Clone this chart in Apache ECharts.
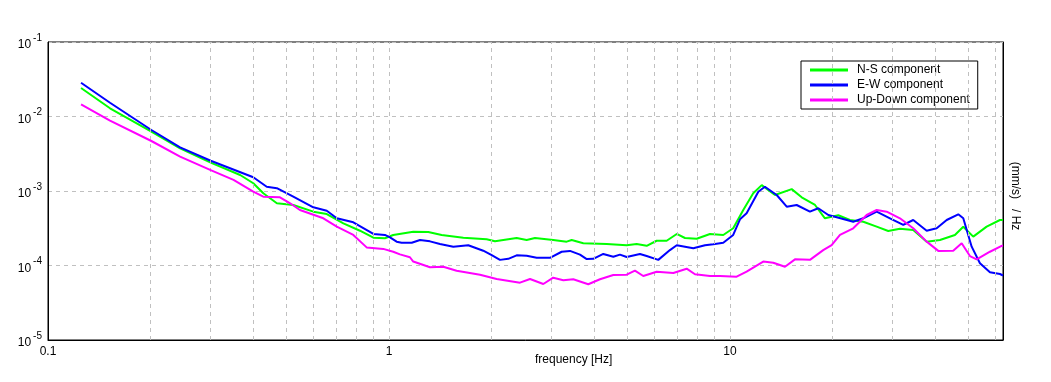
<!DOCTYPE html>
<html lang="en">
<head>
    <meta charset="UTF-8">
    <title>Spectrum components</title>
    <script src="https://cdn.jsdelivr.net/npm/echarts@6/dist/echarts.min.js"></script>
</head>
<body style="margin:0; background:#fff;">
    <div id="main" style="width:1051px;height:382px;"></div>
    <script>
        // series names
        var seriesNames = ['N-S component', 'E-W component', 'Up-Down component'];

        // [frequency Hz, amplitude (mm/s)/Hz]
        var nsData = [
            [0.125,0.0241],[0.152,0.0129],[0.201,0.00625],[0.244,0.00374],[0.300,0.00240],[0.366,0.00164],
            [0.400,0.00127],[0.428,0.000931],[0.469,0.000684],[0.524,0.000649],[0.600,0.000528],[0.657,0.000491],
            [0.735,0.000368],[0.822,0.000293],[0.900,0.000236],[0.973,0.000232],[1.029,0.000257],[1.178,0.000284],
            [1.304,0.000282],[1.427,0.000257],[1.652,0.000236],[1.934,0.000225],[2.046,0.000211],[2.368,0.000234],
            [2.534,0.000220],[2.680,0.000234],[3.032,0.000220],[3.320,0.000209],[3.434,0.000220],[3.714,0.000199],
            [4.349,0.000194],[4.978,0.000187],[5.325,0.000194],[5.698,0.000184],[6.096,0.000215],[6.522,0.000215],
            [6.981,0.000265],[7.379,0.000234],[7.988,0.000229],[8.737,0.000265],[9.558,0.000257],[10.22,0.000316],
            [10.94,0.000556],[11.70,0.000931],[12.39,0.00120],[13.55,0.000884],[15.17,0.00106],[16.23,0.000823],
            [17.76,0.000649],[18.99,0.000430],[20.78,0.000472],[22.48,0.000408],[24.60,0.000387],[26.93,0.000332],
            [29.12,0.000290],[31.51,0.000312],[34.47,0.000300],[37.75,0.000209],[41.28,0.000220],[45.68,0.000257],
            [48.33,0.000332],[51.70,0.000244],[56.59,0.000332],[61.92,0.000408],[63.2,0.000408]
        ];
        var ewData = [
            [0.125,0.0284],[0.152,0.0153],[0.201,0.00659],[0.244,0.00386],[0.300,0.00255],[0.400,0.00153],
            [0.438,0.00114],[0.469,0.00109],[0.524,0.000838],[0.600,0.000604],[0.657,0.000544],[0.703,0.000430],
            [0.786,0.000380],[0.900,0.000265],[0.973,0.000257],[1.007,0.000239],[1.053,0.000209],[1.089,0.000202],
            [1.166,0.000202],[1.233,0.000220],[1.319,0.000211],[1.411,0.000194],[1.544,0.000179],[1.708,0.000187],
            [1.890,0.000158],[2.001,0.000138],[2.116,0.000119],[2.238,0.000123],[2.368,0.000137],[2.534,0.000135],
            [2.711,0.000127],[2.966,0.000127],[3.209,0.000153],[3.395,0.000157],[3.632,0.000140],[3.801,0.000122],
            [3.973,0.000123],[4.251,0.000143],[4.548,0.000131],[4.757,0.000140],[4.978,0.000130],[5.445,0.000143],
            [5.698,0.000134],[6.163,0.000119],[6.668,0.000161],[6.981,0.000187],[7.806,0.000170],[8.448,0.000187],
            [8.934,0.000193],[9.558,0.000202],[10.22,0.000257],[10.70,0.000417],[11.19,0.000502],[12.11,0.000979],
            [12.66,0.00114],[13.71,0.000884],[14.67,0.000616],[15.69,0.000649],[17.16,0.000528],[18.15,0.000586],
            [19.43,0.000476],[20.56,0.000444],[22.99,0.000387],[24.60,0.000430],[26.93,0.000528],[29.46,0.000430],
            [32.23,0.000350],[34.47,0.000408],[37.75,0.000293],[40.38,0.000316],[43.21,0.000408],[46.72,0.000487],
            [48.33,0.000430],[51.15,0.000179],[54.09,0.000107],[57.87,0.0000810],[61.92,0.0000769],[63.2,0.0000734]
        ];
        var udData = [
            [0.125,0.0146],[0.152,0.00878],[0.201,0.00469],[0.244,0.00289],[0.300,0.00191],[0.350,0.00141],
            [0.400,0.000979],[0.428,0.000838],[0.479,0.000823],[0.513,0.000684],[0.548,0.000556],[0.642,0.000430],
            [0.703,0.000332],[0.786,0.000257],[0.860,0.000175],[0.962,0.000167],[1.029,0.000153],[1.077,0.000141],
            [1.152,0.000129],[1.178,0.000113],[1.319,0.0000946],[1.443,0.0000964],[1.579,0.0000852],[1.849,0.0000752],
            [2.069,0.0000659],[2.422,0.0000588],[2.592,0.0000659],[2.835,0.0000565],[3.032,0.0000686],[3.245,0.0000633],
            [3.471,0.0000653],[3.841,0.0000560],[4.157,0.0000653],[4.548,0.0000746],[4.978,0.0000752],[5.264,0.0000852],
            [5.568,0.0000723],[6.096,0.0000825],[6.822,0.0000793],[7.465,0.0000906],[7.896,0.0000762],[8.737,0.0000723],
            [9.348,0.0000723],[10.46,0.0000707],[11.19,0.0000825],[12.52,0.000113],[13.40,0.000109],[14.50,0.0000964],
            [15.51,0.000121],[17.16,0.000119],[18.77,0.000161],[19.87,0.000188],[21.02,0.000257],[22.99,0.000316],
            [25.17,0.000476],[26.93,0.000556],[28.81,0.000528],[31.51,0.000430],[34.47,0.000316],[37.75,0.000209],
            [40.82,0.000157],[45.16,0.000158],[47.81,0.000199],[50.55,0.000134],[52.90,0.000121],[57.87,0.000153],
            [62.62,0.000183],[63.2,0.000186]
        ];

        // vertical dashed grid lines (1-2-3..9 per decade)
        var gridFreqs = [0.2,0.3,0.4,0.5,0.6,0.7,0.8,0.9,1,2,3,4,5,6,7,8,9,10,20,30,40,50,60];

        var font = '"Liberation Sans", Arial, sans-serif';
        var gridColor = '#c0c0c0';

        var chart = echarts.init(document.getElementById('main'));

        var option = {
            animation: false,
            textStyle: { fontFamily: font },
            grid: {
                left: 48, right: 48, top: 42, bottom: 42,
                show: true, borderColor: '#000', borderWidth: 1
            },
            legend: {
                data: seriesNames,
                orient: 'vertical',
                left: 801, top: 61,
                padding: [2, 8, 2, 9],
                icon: 'rect',
                itemGap: 1,
                itemWidth: 38,
                itemHeight: 3,
                backgroundColor: '#fff',
                borderColor: '#000',
                borderWidth: 1,
                borderRadius: 0,
                textStyle: { color: '#000', fontSize: 12, fontFamily: font, lineHeight: 14, padding: [0, 0, 0, 4] }
            },
            xAxis: {
                type: 'log',
                logBase: 10,
                min: 0.1,
                max: 63.2,
                axisLine: { show: true, lineStyle: { color: '#000', width: 1 } },
                axisTick: { show: false },
                splitLine: { show: false },
                axisLabel: {
                    color: '#000', fontSize: 12, margin: 6,
                    showMaxLabel: false,
                    formatter: function (v) { return v < 1 ? v.toFixed(1) : String(Math.round(v)); }
                }
            },
            yAxis: [{
                type: 'log',
                logBase: 10,
                min: 0.00001,
                max: 0.1,
                axisLine: { show: true, lineStyle: { color: '#000', width: 1 } },
                axisTick: { show: false },
                splitLine: { show: true, lineStyle: { color: gridColor, type: [4, 4], width: 1 } },
                axisLabel: {
                    margin: 6,
                    formatter: function (v) {
                        return '{b|10}{s|' + Math.round(Math.log10(v)) + '}';
                    },
                    rich: {
                        b: { fontSize: 12, color: '#000', fontFamily: font, lineHeight: 18, verticalAlign: 'bottom' },
                        s: { fontSize: 10, color: '#000', fontFamily: font, lineHeight: 18, verticalAlign: 'top', padding: [0, 0, 0, 2] }
                    }
                }
            }, {
                type: 'log',
                logBase: 10,
                min: 0.00001,
                max: 0.1,
                position: 'right',
                name: '(mm/s)   / Hz',
                nameLocation: 'middle',
                nameRotate: -90,
                nameGap: 6,
                nameTextStyle: { color: '#000', fontSize: 12, fontFamily: font, padding: [0, 0, 0, 10] },
                axisLine: { show: true, lineStyle: { color: '#000', width: 1 } },
                axisTick: { show: false },
                axisLabel: { show: false },
                splitLine: { show: false }
            }],
            graphic: [{
                type: 'text',
                left: 535, top: 354,
                style: { text: 'frequency [Hz]', fill: '#000', font: '12px ' + font }
            }],
            series: [
                {
                    name: 'grid',
                    type: 'line',
                    data: [],
                    z: 1,
                    silent: true,
                    markLine: {
                        silent: true,
                        symbol: 'none',
                        label: { show: false },
                        lineStyle: { color: gridColor, type: [4, 4], width: 1 },
                        data: gridFreqs.map(function (f) { return { xAxis: f }; })
                    }
                },
                {
                    name: seriesNames[0], type: 'line', data: nsData, z: 3,
                    symbol: 'none', color: '#00ff00', lineStyle: { width: 2 }
                },
                {
                    name: seriesNames[1], type: 'line', data: ewData, z: 4,
                    symbol: 'none', color: '#0000ff', lineStyle: { width: 2 }
                },
                {
                    name: seriesNames[2], type: 'line', data: udData, z: 5,
                    symbol: 'none', color: '#ff00ff', lineStyle: { width: 2 }
                }
            ]
        };

        chart.setOption(option);
    </script>
</body>
</html>
